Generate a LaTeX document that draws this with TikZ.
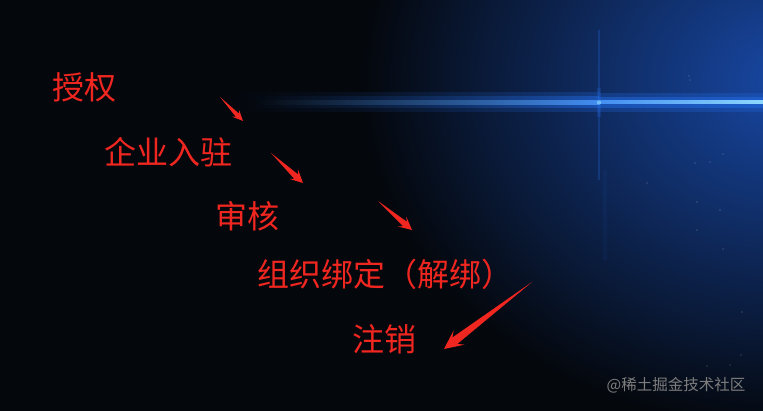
\documentclass[tikz,border=0pt]{standalone}
\usepackage{fontspec}
\newfontfamily\cjk{Noto Sans CJK SC}
\usetikzlibrary{calc}
\definecolor{labelred}{RGB}{240,38,32}
\definecolor{beamblue}{RGB}{35,110,235}
\definecolor{beamcore}{RGB}{140,215,255}
\definecolor{skyblue}{RGB}{24,72,165}
\definecolor{bgdark}{RGB}{4,7,12}
\definecolor{markgrey}{RGB}{125,125,125}
\tikzset{
  label text/.style={text=labelred, inner sep=0pt, font=\cjk\fontsize{32}{38}\selectfont},
  watermark/.style={text=markgrey, inner sep=0pt, font=\cjk\fontsize{15.5}{18}\selectfont},
  arrowfill/.style={fill=labelred, draw=none},
  glow/.style={left color=bgdark, right color=beamblue},
}
% tapered red arrow: #1 tail, #2 tip, #3 head length, #4 head half width
\newcommand\taperarrow[4]{%
  \coordinate (hb) at ($(#2)!#3pt!(#1)$);
  \coordinate (nb) at ($(#2)!0.72*#3pt!(#1)$);
  \fill[arrowfill] (#1)
    -- ($(nb)!0.45*#4pt!90:(#2)$)
    -- ($(hb)!#4pt!90:(#2)$)
    -- (#2)
    -- ($(hb)!#4pt!-90:(#2)$)
    -- ($(nb)!0.45*#4pt!-90:(#2)$)
    -- cycle;
}
\begin{document}
\begin{tikzpicture}[x=1pt,y=-1pt]
\useasboundingbox (0,0) rectangle (763,411);
% background
\fill[bgdark] (0,0) rectangle (763,411);
\begin{scope}
\clip (0,0) rectangle (763,411);
\shade[inner color=skyblue, outer color=bgdark] (790,80) ellipse (430 and 350);
% beam glow (left part fades in)
\shade[glow, opacity=0.25] (230,93) rectangle (599,112);
\shade[glow, opacity=0.45] (240,97) rectangle (599,108);
\shade[left color=bgdark, right color=beamblue!70!beamcore] (250,100.8) rectangle (599,104.2);
% beam right part
\fill[beamblue, opacity=0.25] (599,93) rectangle (763,112);
\fill[beamblue, opacity=0.45] (599,97) rectangle (763,108);
\shade[left color=beamblue!70!beamcore, right color=beamcore] (599,101) rectangle (763,104);
% flare
\fill[beamblue, opacity=0.25] (598.3,30) rectangle (599.7,180);
\fill[beamblue, opacity=0.2] (597,88) rectangle (601,117);
\fill[beamblue, opacity=0.06] (603,170) rectangle (607,260);
\fill[beamcore, opacity=0.7] (599,102.5) circle (2.2);
% faint stars
\foreach \sx/\sy in {689/76,690/80,710/162,723/154,695/163,647/183,697/202,720/210,723/249,697/230,742/312,741/355,730/365,707/366}
  \fill[white, opacity=0.35] (\sx,\sy) circle (0.6);
\end{scope}
% labels
\node[label text] (t1) at (84,87) {授权};
\node[label text] (t2) at (168,152) {企业入驻};
\node[label text] (t3) at (247,216) {审核};
\node[label text] (t4) at (385,274) {组织绑定（解绑）};
\node[label text] (t5) at (384,339) {注销};
\node[watermark] (wm) at (676,385) {@稀土掘金技术社区};
% arrows
\coordinate (a1s) at (220,97);  \coordinate (a1e) at (243,121);
\coordinate (a2s) at (271,153); \coordinate (a2e) at (303,183);
\coordinate (a3s) at (378,201); \coordinate (a3e) at (412,230);
\coordinate (a4s) at (532,282); \coordinate (a4e) at (444,349);
\taperarrow{a1s}{a1e}{11}{5}
\taperarrow{a2s}{a2e}{13}{6.5}
\taperarrow{a3s}{a3e}{13}{6.5}
\taperarrow{a4s}{a4e}{19}{9}
\end{tikzpicture}
\end{document}
